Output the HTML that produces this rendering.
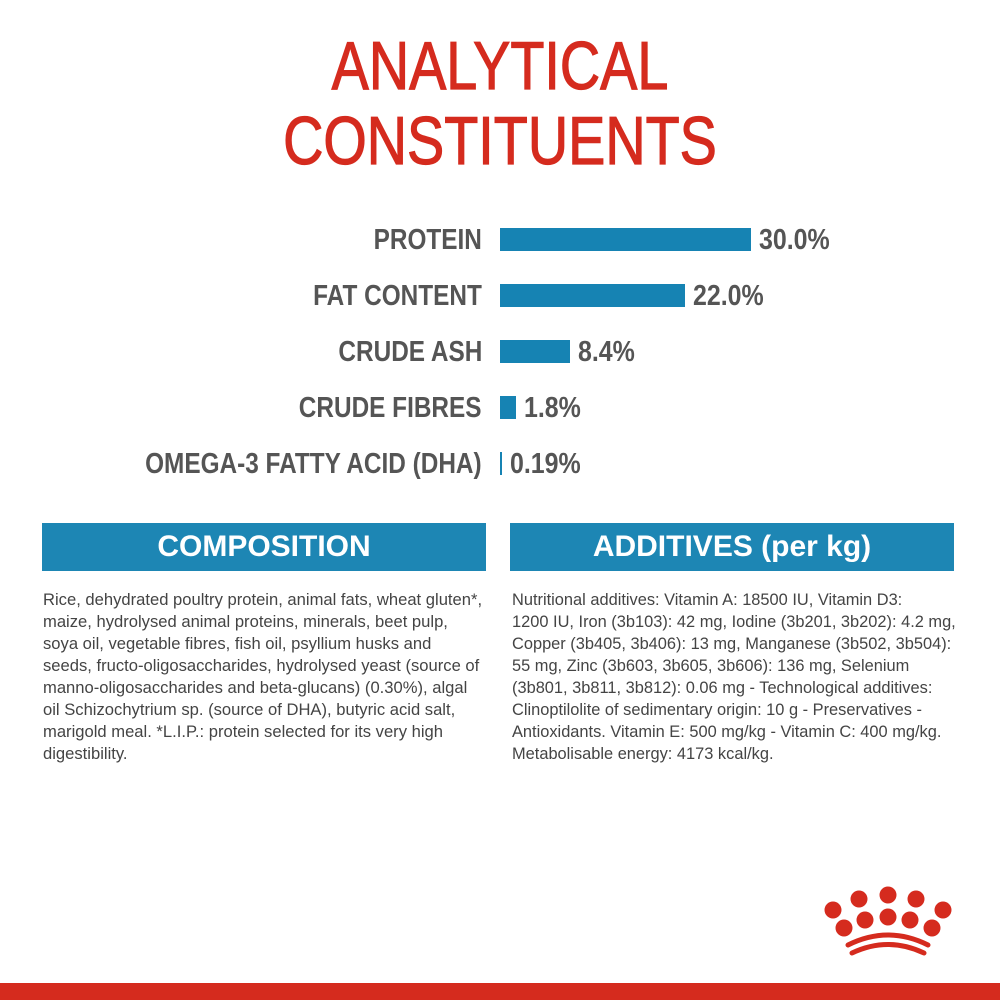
<!DOCTYPE html>
<html><head><meta charset="utf-8"><style>
*{margin:0;padding:0;box-sizing:border-box}
body{width:1000px;height:1000px;background:#fff;position:relative;overflow:hidden;font-family:"Liberation Sans",sans-serif}
.t{position:absolute;left:0;width:1000px;text-align:center;color:#d52b1e;font-size:68px;line-height:68px;transform:scaleX(0.82);-webkit-text-stroke:1.2px #d52b1e}
.lab{position:absolute;right:518px;font-weight:bold;font-size:29px;color:#555;line-height:30px;white-space:nowrap;transform:scaleX(0.84);transform-origin:right center}
.val{position:absolute;font-weight:bold;font-size:29px;color:#555;line-height:30px;white-space:nowrap;transform:scaleX(0.86);transform-origin:left center}
.bar{position:absolute;left:500px;background:#1683b3;height:23px}
.hd{position:absolute;top:523px;height:48px;background:#1d86b4;color:#fff;font-weight:bold;font-size:30px;line-height:48px;text-align:center}
.tx{position:absolute;top:589px;font-size:16.6px;line-height:22px;color:#444;white-space:nowrap}
</style></head><body>
<div class="t" style="top:32px">ANALYTICAL</div>
<div class="t" style="top:107px">CONSTITUENTS</div>

<div class="lab" style="top:225px">PROTEIN</div><div class="bar" style="top:228px;width:251px"></div><div class="val" style="top:225px;left:759px">30.0%</div>
<div class="lab" style="top:281px">FAT CONTENT</div><div class="bar" style="top:284px;width:185px"></div><div class="val" style="top:281px;left:693px">22.0%</div>
<div class="lab" style="top:337px">CRUDE ASH</div><div class="bar" style="top:340px;width:70px"></div><div class="val" style="top:337px;left:578px">8.4%</div>
<div class="lab" style="top:393px">CRUDE FIBRES</div><div class="bar" style="top:396px;width:16px"></div><div class="val" style="top:393px;left:524px">1.8%</div>
<div class="lab" style="top:449px">OMEGA-3 FATTY ACID (DHA)</div><div class="bar" style="top:452px;width:2px"></div><div class="val" style="top:449px;left:510px">0.19%</div>

<div class="hd" style="left:42px;width:444px">COMPOSITION</div>
<div class="hd" style="left:510px;width:444px">ADDITIVES (per kg)</div>
<div class="tx" style="left:43px">Rice, dehydrated poultry protein, animal fats, wheat gluten*,<br>maize, hydrolysed animal proteins, minerals, beet pulp,<br>soya oil, vegetable fibres, fish oil, psyllium husks and<br>seeds, fructo-oligosaccharides, hydrolysed yeast (source of<br>manno-oligosaccharides and beta-glucans) (0.30%), algal<br>oil Schizochytrium sp. (source of DHA), butyric acid salt,<br>marigold meal. *L.I.P.: protein selected for its very high<br>digestibility.</div>
<div class="tx" style="left:512px;font-size:16.4px">Nutritional additives: Vitamin A: 18500 IU, Vitamin D3:<br>1200 IU, Iron (3b103): 42 mg, Iodine (3b201, 3b202): 4.2 mg,<br>Copper (3b405, 3b406): 13 mg, Manganese (3b502, 3b504):<br>55 mg, Zinc (3b603, 3b605, 3b606): 136 mg, Selenium<br>(3b801, 3b811, 3b812): 0.06 mg - Technological additives:<br>Clinoptilolite of sedimentary origin: 10 g - Preservatives -<br>Antioxidants. Vitamin E: 500 mg/kg - Vitamin C: 400 mg/kg.<br>Metabolisable energy: 4173 kcal/kg.</div>

<svg style="position:absolute;left:0;top:0" width="1000" height="1000">
<g fill="#d52b1e">
<circle cx="833" cy="910" r="8.5"/><circle cx="859" cy="899" r="8.5"/><circle cx="888" cy="895" r="8.5"/><circle cx="916" cy="899" r="8.5"/><circle cx="943" cy="910" r="8.5"/>
<circle cx="844" cy="928" r="8.5"/><circle cx="865" cy="920" r="8.5"/><circle cx="888" cy="917" r="8.5"/><circle cx="910" cy="920" r="8.5"/><circle cx="932" cy="928" r="8.5"/>
<rect x="0" y="983" width="1000" height="17"/>
</g>
<g fill="none" stroke="#d52b1e" stroke-width="5" stroke-linecap="round">
<path d="M848 945 Q888 925 928 945"/><path d="M852 953 Q888 936 924 953"/>
</g>
</svg>
</body></html>
